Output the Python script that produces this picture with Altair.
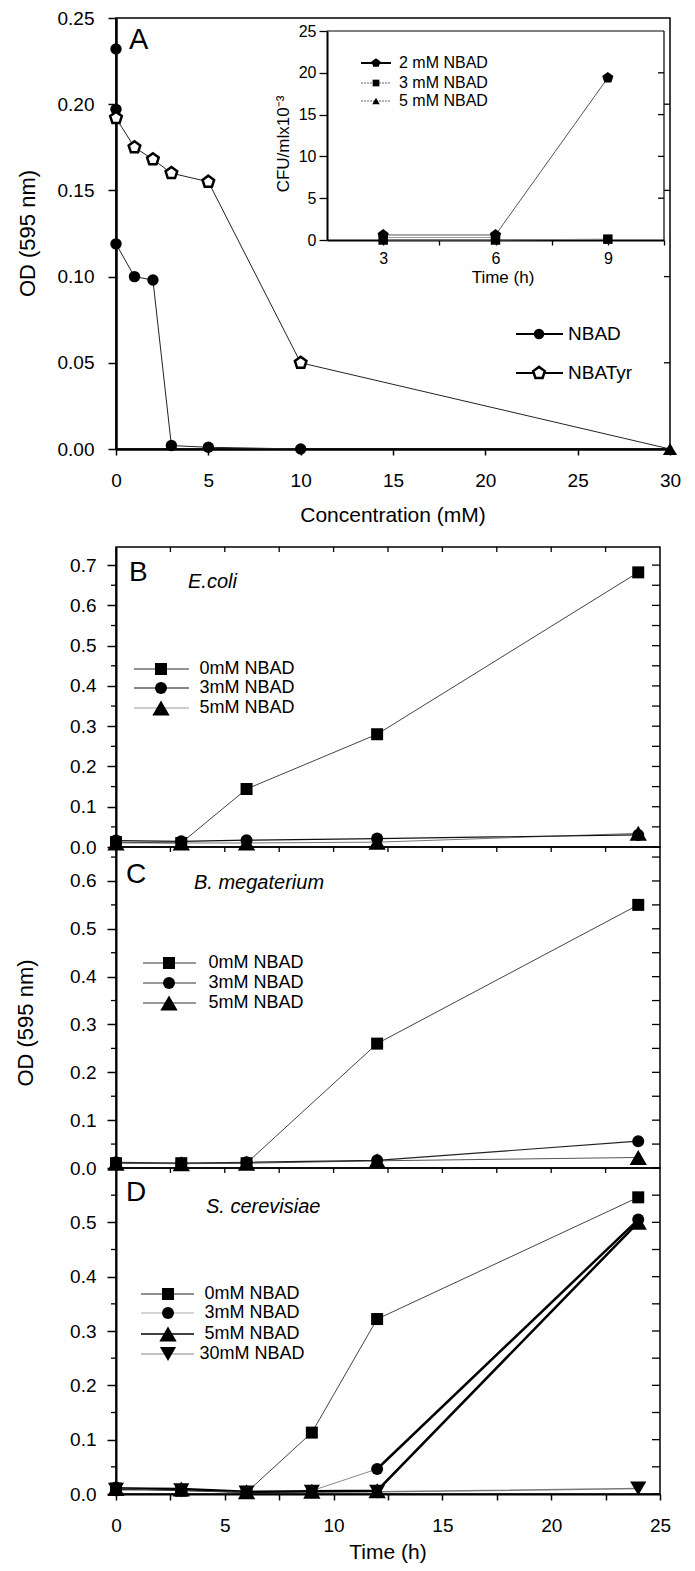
import altair as alt
import pandas as pd

FONT = "Liberation Sans"
PENT = "M0,-1L0.951,-0.309L0.588,0.809L-0.588,0.809L-0.951,-0.309Z"

# ---------------- Panel A data ----------------
a_nbad_conc = [0, 1, 2, 3, 5, 10]
a_nbad_od = [0.119, 0.100, 0.098, 0.002, 0.001, 0.000]
a_extra_conc = [0, 0]
a_extra_od = [0.232, 0.197]
a_nbatyr_conc = [0, 1, 2, 3, 5, 10, 30]
a_nbatyr_od = [0.192, 0.175, 0.168, 0.160, 0.155, 0.050, 0.000]
a_end_conc = [30]
a_end_od = [0.0]
a_xticks = [0, 5, 10, 15, 20, 25, 30]
a_yticks = [0.0, 0.05, 0.10, 0.15, 0.20, 0.25]
a_rticks = [0.05, 0.10, 0.15, 0.20]

# ---------------- Inset data ----------------
in_time = [3, 6, 9]
in_2mm = [0.6, 0.6, 19.4]
in_3mm = [0.0, 0.0, 0.1]
in_5mm_time = [3, 6]
in_5mm = [0.3, 0.3]
in_xticks = [3, 4.5, 6, 7.5, 9, 10.5]
in_yticks = [0, 5, 10, 15, 20, 25]
in_rticks = [5, 10, 15, 20]

# ---------------- Panels B-D data ----------------
bd_xticks = [0, 2.5, 5, 7.5, 10, 12.5, 15, 17.5, 20, 22.5, 25]
bd_top_ticks = [2.5, 5, 7.5, 10, 12.5, 15, 17.5, 20, 22.5]

b_time = [0, 3, 6, 12, 24]
b_0mm = [0.012, 0.010, 0.144, 0.280, 0.682]
b_3mm = [0.016, 0.014, 0.017, 0.021, 0.030]
b_5mm = [0.010, 0.010, 0.010, 0.012, 0.034]
b_major = [0.0, 0.1, 0.2, 0.3, 0.4, 0.5, 0.6, 0.7]
b_minor = [0.05, 0.15, 0.25, 0.35, 0.45, 0.55, 0.65]

c_time = [0, 3, 6, 12, 24]
c_0mm = [0.010, 0.010, 0.010, 0.260, 0.550]
c_3mm = [0.012, 0.010, 0.012, 0.016, 0.056]
c_5mm = [0.010, 0.009, 0.010, 0.015, 0.022]
c_major = [0.0, 0.1, 0.2, 0.3, 0.4, 0.5, 0.6]
c_minor = [0.05, 0.15, 0.25, 0.35, 0.45, 0.55, 0.65]

d_time = [0, 3, 6, 9, 12, 24]
d_0mm = [0.010, 0.006, 0.003, 0.113, 0.322, 0.546]
d_3mm = [0.012, 0.008, 0.003, 0.006, 0.046, 0.505]
d_5mm = [0.010, 0.009, 0.004, 0.005, 0.006, 0.500]
d_30mm = [0.008, 0.007, 0.003, 0.004, 0.004, 0.010]
d_major = [0.0, 0.1, 0.2, 0.3, 0.4, 0.5]
d_minor = [0.05, 0.15, 0.25, 0.35, 0.45, 0.55]

# ---------------- geometry ----------------
A_W, A_H = 554, 431
BD_W = 544
B_H, C_H, D_H = 300, 321, 326

ONE = pd.DataFrame({"t": [""]})


def sc(domain, rng=None):
    if rng is None:
        return alt.Scale(domain=domain, nice=False, zero=False)
    return alt.Scale(domain=domain, range=rng, nice=False, zero=False)


def xy(x, y):
    return pd.DataFrame({"x": x, "y": y})


class P:
    """Scales and axes shared by every layer of a panel."""

    def __init__(self, xs, ys, xax, yax):
        self.xs, self.ys, self.xax, self.yax = xs, ys, xax, yax

    def X(self, f="x:Q"):
        return alt.X(f, scale=self.xs, axis=self.xax)

    def Y(self, f="y:Q"):
        return alt.Y(f, scale=self.ys, axis=self.yax)


def line(p, x, y, **kw):
    return alt.Chart(xy(x, y)).mark_line(**kw).encode(x=p.X(), y=p.Y())


def pts(p, x, y, **kw):
    return alt.Chart(xy(x, y)).mark_point(opacity=1, **kw).encode(x=p.X(), y=p.Y())


def hline(x1, x2, y, color="black", w=1.0, dash=None):
    kw = {}
    if dash:
        kw["strokeDash"] = dash
    return alt.Chart(ONE).mark_rule(color=color, strokeWidth=w, **kw).encode(
        x=alt.value(x1), x2=alt.value(x2), y=alt.value(y))


def sym(x, y, **kw):
    return alt.Chart(ONE).mark_point(opacity=1, **kw).encode(x=alt.value(x), y=alt.value(y))


def txt(s, x, y, size, align="left", baseline="alphabetic", style="normal", angle=0):
    kw = {}
    if angle:
        kw["angle"] = angle
    return alt.Chart(pd.DataFrame({"t": [s]})).mark_text(
        font=FONT, fontSize=size, align=align, baseline=baseline, fontStyle=style,
        color="black", **kw).encode(text="t:N", x=alt.value(x), y=alt.value(y))


def yticks_side(p, vals, x1, x2, w=1.3):
    return alt.Chart(pd.DataFrame({"v": vals})).mark_rule(color="black", strokeWidth=w).encode(
        y=p.Y("v:Q"), x=alt.value(x1), x2=alt.value(x2))


def xticks_top(p, vals, length, w=1.3):
    return alt.Chart(pd.DataFrame({"v": vals})).mark_rule(color="black", strokeWidth=w).encode(
        x=p.X("v:Q"), y=alt.value(0), y2=alt.value(length))


SQ = dict(shape="square", filled=True, color="black", size=144)
CI = dict(shape="circle", filled=True, color="black", size=144)
TU = dict(shape="triangle-up", filled=True, color="black", size=300)
TD = dict(shape="triangle-down", filled=True, color="black", size=260)

# ================= Panel A =================
pA = P(
    sc([0, 30]), sc([0, 0.25]),
    alt.Axis(values=a_xticks, format="d", tickSize=6, labelPadding=16, labelFontSize=19,
             title=None, domainWidth=2.5, tickWidth=1.5, labelFlush=False, labelOverlap=False),
    alt.Axis(values=a_yticks, format=".2f", tickSize=8, labelPadding=14, labelFontSize=19,
             title=None, domainWidth=2.5, tickWidth=1.5, labelFlush=False, labelOverlap=False),
)

A_main = alt.layer(
    line(pA, a_nbatyr_conc, a_nbatyr_od, color="#222", strokeWidth=1),
    line(pA, a_nbad_conc, a_nbad_od, color="#222", strokeWidth=1),
    pts(pA, a_extra_conc, a_extra_od, shape="circle", filled=True, color="black", size=130),
    pts(pA, a_nbad_conc, a_nbad_od, shape="circle", filled=True, color="black", size=130),
    pts(pA, a_nbatyr_conc[:-1], a_nbatyr_od[:-1], shape=PENT, filled=True,
        fill="white", stroke="black", strokeWidth=2.5, size=150),
    pts(pA, a_end_conc, a_end_od, shape="triangle-up", filled=True, color="black", size=200),
    yticks_side(pA, a_rticks, A_W - 6, A_W),
    # legend
    hline(400, 447, 316, w=2),
    sym(423, 316, shape="circle", filled=True, color="black", size=110),
    txt("NBAD", 452, 316, 19, baseline="middle"),
    hline(400, 447, 355, w=2),
    sym(423, 355, shape=PENT, filled=True, fill="white", stroke="black", strokeWidth=2.5, size=150),
    txt("NBATyr", 452, 355, 19, baseline="middle"),
    # labels
    txt("A", 13, 31, 29),
    txt("OD (595 nm)", -88, A_H / 2, 22, align="center", baseline="middle", angle=270),
    txt("Concentration (mM)", 277, 498, 21, align="center", baseline="middle"),
)

# Inset (own scales mapped into a sub-rectangle of panel A)
pI = P(
    sc([1.5, 10.5], [211, 548]), sc([0, 25], [222, 13]),
    alt.Axis(orient="bottom", offset=-(A_H - 222), values=in_xticks, format="d",
             labelExpr="datum.value % 3 === 0 ? datum.label : ''", tickSize=5, labelPadding=5,
             labelFontSize=16, title=None, domainWidth=2, tickWidth=1.3,
             labelFlush=False, labelOverlap=False),
    alt.Axis(orient="left", offset=-211, values=in_yticks, format="d", tickSize=8, labelPadding=3,
             labelFontSize=16, title=None, domainWidth=2, tickWidth=1.3,
             labelFlush=False, labelOverlap=False),
)

A_inset = alt.layer(
    alt.Chart(ONE).mark_rule(color="black", strokeWidth=1.2).encode(
        x=alt.XDatum(1.5, scale=pI.xs, axis=pI.xax), x2=alt.X2Datum(10.5),
        y=alt.YDatum(25, scale=pI.ys, axis=pI.yax)),
    alt.Chart(ONE).mark_rule(color="black", strokeWidth=1.2).encode(
        x=alt.XDatum(10.5, scale=pI.xs, axis=pI.xax),
        y=alt.YDatum(0, scale=pI.ys, axis=pI.yax), y2=alt.Y2Datum(25)),
    yticks_side(pI, in_rticks, 548 - 6, 548),
    line(pI, in_5mm_time, in_5mm, color="#999", strokeWidth=1),
    line(pI, in_time, in_3mm, color="#777", strokeWidth=1),
    line(pI, in_time, in_2mm, color="#555", strokeWidth=1),
    pts(pI, in_5mm_time, in_5mm, shape="triangle-up", filled=True, color="black", size=70),
    pts(pI, in_time, in_3mm, shape="square", filled=True, color="black", size=90),
    pts(pI, in_time, in_2mm, shape=PENT, filled=True, color="black", size=140),
    # inset legend
    hline(245, 275, 45, w=2),
    sym(260, 45, shape=PENT, filled=True, color="black", size=90),
    txt("2 mM NBAD", 283, 45, 16, baseline="middle"),
    hline(245, 275, 65, color="#666", w=1, dash=[2, 1]),
    sym(260, 65, shape="square", filled=True, color="black", size=45),
    txt("3 mM NBAD", 283, 65, 16, baseline="middle"),
    hline(245, 275, 83, color="#666", w=1, dash=[2, 1]),
    sym(260, 83, shape="triangle-up", filled=True, color="black", size=55),
    txt("5 mM NBAD", 283, 83, 16, baseline="middle"),
    txt("CFU/mlx10\u207b\u00b3", 168, 126, 17, align="center", baseline="middle", angle=270),
    txt("Time (h)", 387, 260, 17, align="center", baseline="middle"),
)

A = alt.layer(A_main, A_inset).resolve_scale(x="independent", y="independent").properties(
    width=A_W, height=A_H)

# ================= Panels B-D =================
bd_xs = sc([0, 25])


def yax(major):
    return alt.Axis(values=major, format=".1f", tickSize=9, labelPadding=11, labelFontSize=19,
                    title=None, domainWidth=2, tickWidth=1.5, labelFlush=False, labelOverlap=False)


def frame_ticks(p, minor, major):
    return [
        yticks_side(p, minor, -5, 0),
        yticks_side(p, major + minor, BD_W - 8, BD_W),
        xticks_top(p, bd_top_ticks, 5),
    ]


def legend(entries, ys_list, x1, x2, xs_sym, xt):
    out = []
    for (label, color, w, style), yy in zip(entries, ys_list):
        out.append(hline(x1, x2, yy, color=color, w=w))
        out.append(sym(xs_sym, yy, **style))
        out.append(txt(label, xt, yy, 18, align="center", baseline="middle"))
    return out


# ---- B
pB = P(bd_xs, sc([0, 0.745]), None, yax(b_major))
B = alt.layer(
    *frame_ticks(pB, b_minor, b_major),
    line(pB, b_time, b_5mm, color="#777", strokeWidth=1),
    line(pB, b_time, b_3mm, color="#111", strokeWidth=1.2),
    line(pB, b_time, b_0mm, color="#444", strokeWidth=1),
    pts(pB, b_time, b_0mm, **SQ),
    pts(pB, b_time, b_3mm, **CI),
    pts(pB, b_time, b_5mm, **TU),
    *legend([("0mM NBAD", "#222", 1, SQ), ("3mM NBAD", "#111", 1.2, CI),
             ("5mM NBAD", "#999", 1, TU)], [122, 141, 161], 18, 73, 45, 131),
    txt("B", 13, 34, 28),
    txt("E.coli", 72, 41, 20, style="italic"),
).properties(width=BD_W, height=B_H)

# ---- C
pC = P(bd_xs, sc([0, 0.671]), None, yax(c_major))
C = alt.layer(
    *frame_ticks(pC, c_minor, c_major),
    line(pC, c_time, c_5mm, color="#555", strokeWidth=1),
    line(pC, c_time, c_3mm, color="#222", strokeWidth=1.2),
    line(pC, c_time, c_0mm, color="#444", strokeWidth=1),
    pts(pC, c_time, c_0mm, **SQ),
    pts(pC, c_time, c_3mm, **CI),
    pts(pC, c_time, c_5mm, **TU),
    *legend([("0mM NBAD", "#333", 1, SQ), ("3mM NBAD", "#333", 1, CI),
             ("5mM NBAD", "#333", 1, TU)], [116, 136, 156], 27, 80, 53, 140),
    txt("C", 10, 36, 28),
    txt("B. megaterium", 78, 42, 20, style="italic"),
    txt("OD (595 nm)", -90, 176, 22, align="center", baseline="middle", angle=270),
).properties(width=BD_W, height=C_H)

# ---- D
d_xaxis = alt.Axis(values=bd_xticks, format="d", labelExpr="datum.value % 5 === 0 ? datum.label : ''",
                   tickSize=6, labelPadding=16, labelFontSize=19, title=None, domainWidth=2,
                   tickWidth=1.5, labelFlush=False, labelOverlap=False)
pD = P(bd_xs, sc([0, 0.6]), d_xaxis, yax(d_major))
D = alt.layer(
    *frame_ticks(pD, d_minor, d_major),
    line(pD, d_time, d_30mm, color="#777", strokeWidth=1.5),
    line(pD, d_time[:5], d_3mm[:5], color="#888", strokeWidth=1),
    line(pD, d_time, d_5mm, color="#000", strokeWidth=2.5),
    line(pD, d_time[4:], d_3mm[4:], color="#000", strokeWidth=2.5),
    line(pD, d_time, d_0mm, color="#444", strokeWidth=1),
    pts(pD, d_time, d_30mm, **TD),
    pts(pD, d_time, d_5mm, **TU),
    pts(pD, d_time, d_3mm, **CI),
    pts(pD, d_time, d_0mm, **SQ),
    *legend([("0mM NBAD", "#222", 1, SQ), ("3mM NBAD", "#aaa", 1, CI),
             ("5mM NBAD", "#000", 1.5, TU), ("30mM NBAD", "#888", 1, TD)],
            [126, 145, 166, 186], 25, 78, 52, 136),
    txt("D", 10, 33, 28),
    txt("S. cerevisiae", 90, 45, 20, style="italic"),
    txt("Time (h)", 272, 385, 21, align="center", baseline="middle"),
).properties(width=BD_W, height=D_H)

BCD = alt.vconcat(B, C, D, spacing=0, bounds="flush")

chart = alt.vconcat(A, BCD, spacing=98, bounds="flush").properties(
    padding={"left": 6, "top": 0, "right": 5, "bottom": 0},
    background="white",
).configure_view(stroke="black", strokeWidth=1.5).configure_axis(
    labelFont=FONT, labelColor="black", tickColor="black", domainColor="black", grid=False,
)

chart.save("out.html", embed_options={"renderer": "svg", "actions": False})
